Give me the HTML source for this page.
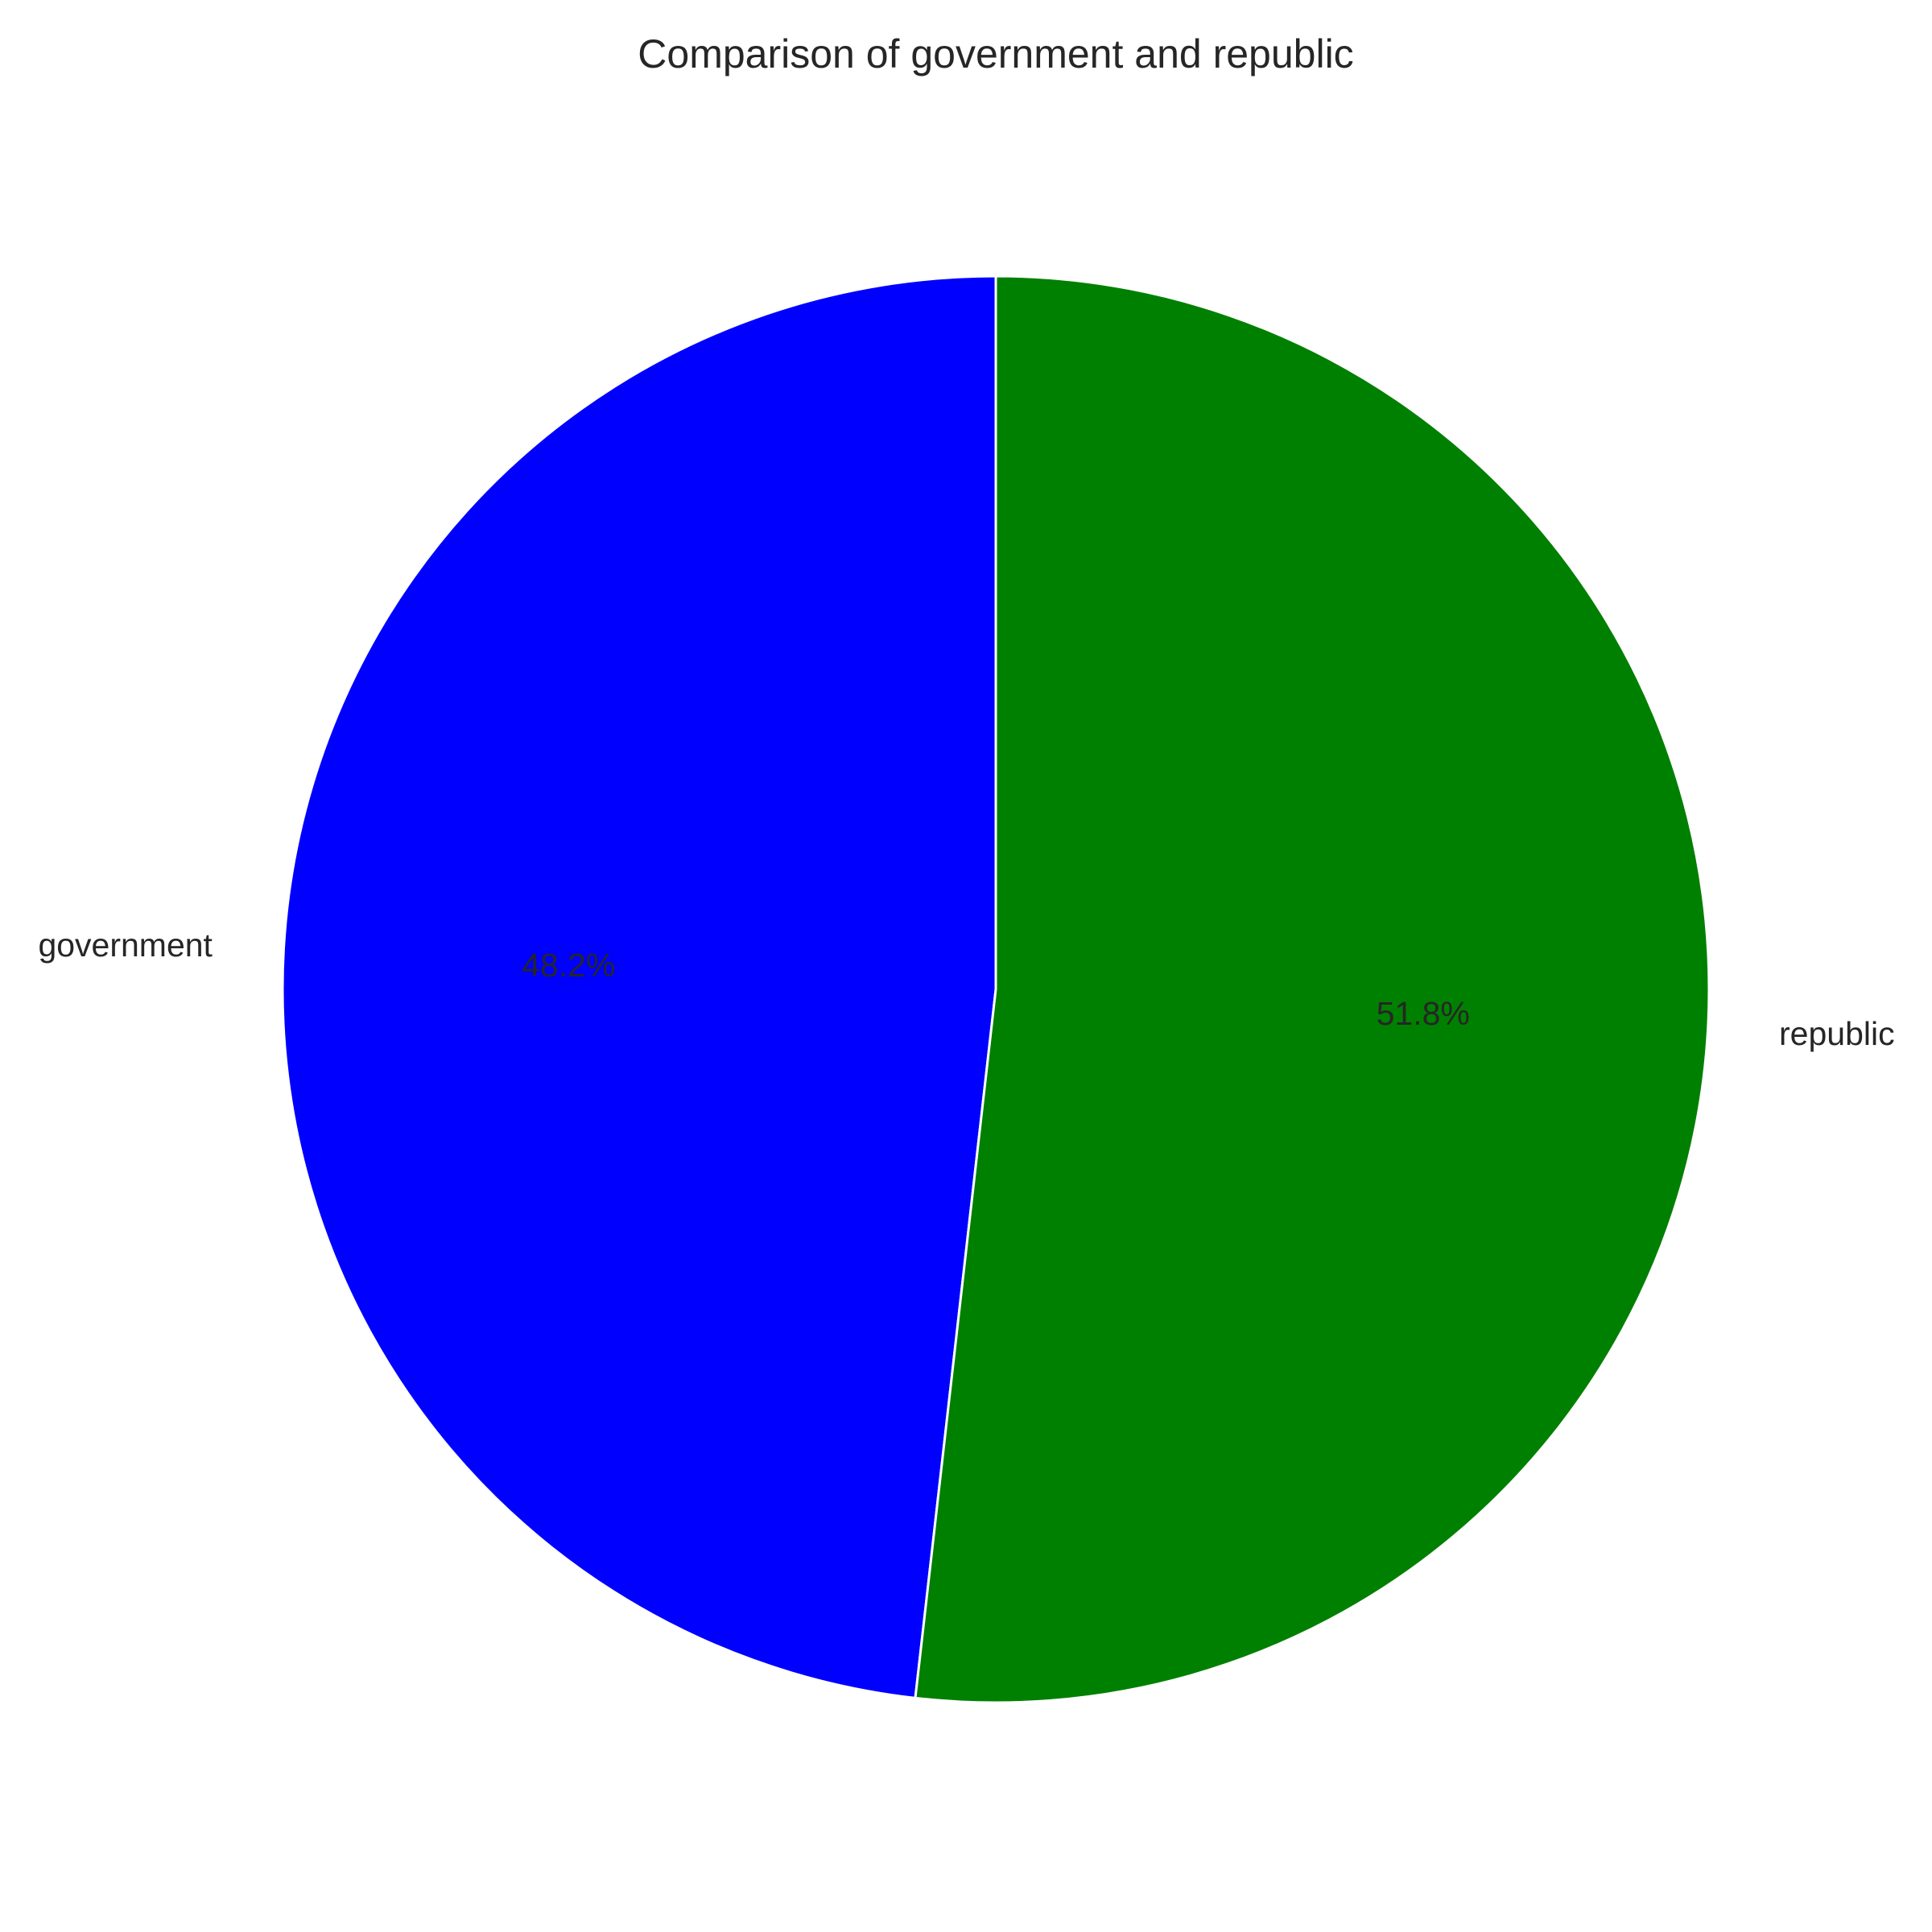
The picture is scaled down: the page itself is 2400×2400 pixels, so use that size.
<!DOCTYPE html>
<html><head><meta charset="utf-8"><style>
html,body{margin:0;padding:0;background:#fff;}
svg{display:block;font-family:"Liberation Sans",Arial,sans-serif;}
</style></head><body>
<svg id="chart" width="2400" height="2400" viewBox="0 0 2400 2400">
<rect width="2400" height="2400" fill="#fff"/>
<text x="1237" y="67" text-anchor="middle" dominant-baseline="central" font-size="50" fill="#262626">Comparison of government and republic</text>
<g id="slices"></g>
</svg>
<script>
const categories = ["government", "republic"];
const values = [48.2, 51.8];
const colors = ["#0000ff", "#008000"];
const pctLabels = ["48.2%", "51.8%"];

const cx = 1237, cy = 1229, r = 886;
const startAngle = 90;
const svgNS = "http://www.w3.org/2000/svg";
const g = document.getElementById("slices");
const total = values.reduce((a, b) => a + b, 0);
function pt(deg, rad) {
  const a = deg * Math.PI / 180;
  return [cx + rad * Math.cos(a), cy - rad * Math.sin(a)];
}
let ang = startAngle;
values.forEach((v, i) => {
  const sweep = v / total * 360;
  const a0 = ang, a1 = ang + sweep;
  const [x0, y0] = pt(a0, r), [x1, y1] = pt(a1, r);
  const large = sweep > 180 ? 1 : 0;
  const p = document.createElementNS(svgNS, "path");
  p.setAttribute("d", `M${cx},${cy} L${x0},${y0} A${r},${r} 0 ${large} 0 ${x1},${y1} Z`);
  p.setAttribute("fill", colors[i]);
  p.setAttribute("stroke", "#fff");
  p.setAttribute("stroke-width", "3");
  p.setAttribute("stroke-linejoin", "round");
  
  
  g.appendChild(p);
  const mid = (a0 + a1) / 2;
  const [lx, ly] = pt(mid, r * 1.1);
  const t = document.createElementNS(svgNS, "text");
  t.setAttribute("x", lx); t.setAttribute("y", ly);
  t.setAttribute("text-anchor", Math.cos(mid * Math.PI / 180) < 0 ? "end" : "start");
  t.setAttribute("dominant-baseline", "central");
  t.setAttribute("font-size", "41");
  t.setAttribute("fill", "#262626");
  t.textContent = categories[i];
  
  
  g.appendChild(t);
  const [px, py] = pt(mid, r * 0.6);
  const pt2 = document.createElementNS(svgNS, "text");
  pt2.setAttribute("x", px); pt2.setAttribute("y", py);
  pt2.setAttribute("text-anchor", "middle");
  pt2.setAttribute("dominant-baseline", "central");
  pt2.setAttribute("font-size", "41");
  pt2.setAttribute("fill", "#262626");
  pt2.textContent = pctLabels[i];
  
  
  g.appendChild(pt2);
  ang = a1;
});
</script>
</body></html>
